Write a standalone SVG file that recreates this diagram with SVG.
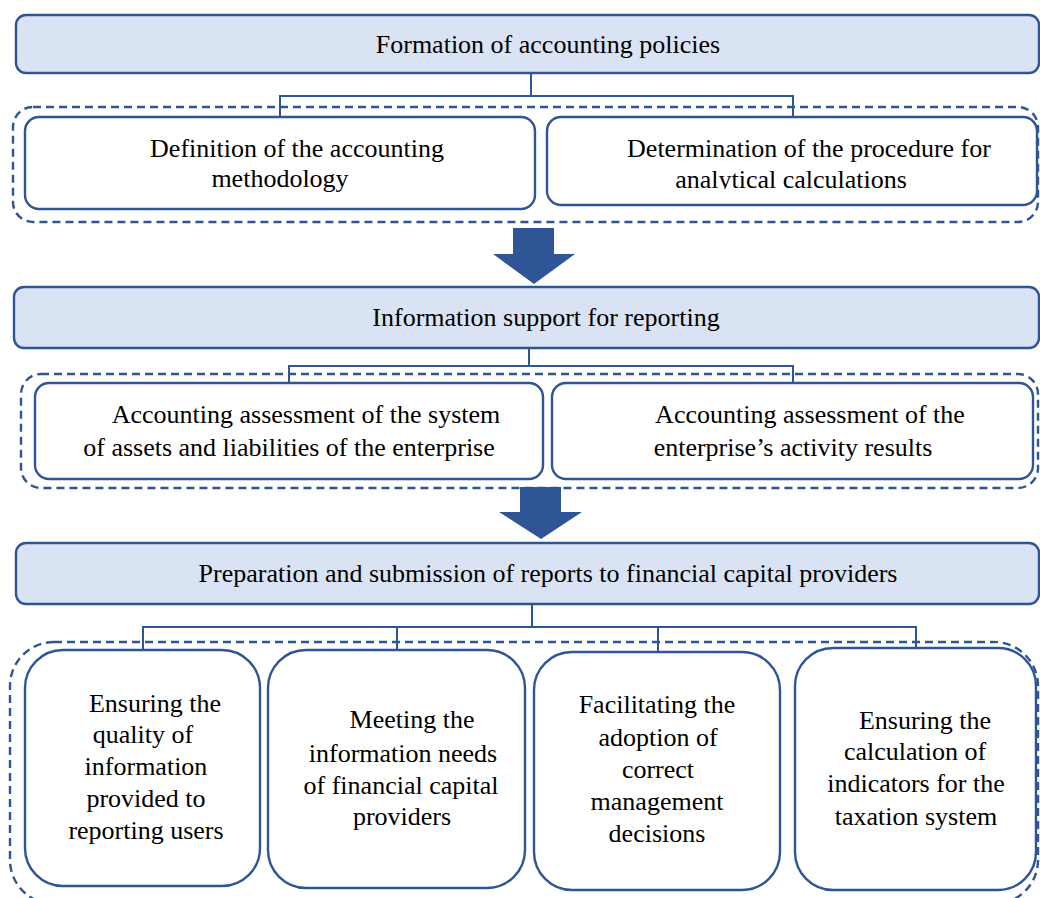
<svg xmlns="http://www.w3.org/2000/svg" width="1040" height="898" viewBox="0 0 1040 898" font-family="'Liberation Serif', 'DejaVu Serif', serif">
  <defs>
    <style>
      .hdr { fill: #DAE3F3; stroke: #2F5597; stroke-width: 2.4; }
      .box { fill: #FFFFFF; stroke: #2F5597; stroke-width: 2.4; }
      .grp { fill: none; stroke: #2F5597; stroke-width: 2.4; stroke-dasharray: 8 5; }
      .wire { fill: none; stroke: #2F5597; stroke-width: 2; }
      .flow { fill: #2F5597; stroke: none; }
      .t { font-family: 'Liberation Serif', 'DejaVu Serif', serif; font-size: 26px; fill: #000000; text-anchor: middle; }
    </style>
    <clipPath id="clipLine">
      <rect x="540" y="160" width="500" height="29"/>
    </clipPath>
  </defs>

  <!-- dashed group frames -->
  <g id="frames">
    <rect class="grp" x="13" y="107" width="1025" height="115" rx="20"/>
    <rect class="grp" x="21" y="374" width="1017" height="114" rx="20"/>
    <rect class="grp" x="10" y="642" width="1028" height="262" rx="44"/>
  </g>

  <!-- stage 1 -->
  <g id="formation" class="t">
    <rect class="hdr" x="16" y="15" width="1023" height="58" rx="10"/>
    <text x="548" y="53">Formation of accounting policies</text>
  </g>
  <g id="definition" class="t">
    <rect class="box" x="25" y="117" width="510" height="92" rx="14"/>
    <text x="297" y="157">Definition of the accounting</text>
    <text x="280" y="187">methodology</text>
  </g>
  <g id="determination" class="t">
    <rect class="box" x="547" y="117" width="490" height="88" rx="14"/>
    <text x="809" y="157">Determination of the procedure for</text>
    <text x="791" y="188" clip-path="url(#clipLine)">analytical calculations</text>
  </g>

  <!-- stage 2 -->
  <g id="information" class="t">
    <rect class="hdr" x="14" y="287" width="1025" height="61" rx="10"/>
    <text x="546" y="326">Information support for reporting</text>
  </g>
  <g id="assets" class="t">
    <rect class="box" x="35" y="383" width="508" height="96" rx="14"/>
    <text x="306" y="423">Accounting assessment of the system</text>
    <text x="289" y="456">of assets and liabilities of the enterprise</text>
  </g>
  <g id="results" class="t">
    <rect class="box" x="552" y="383" width="481" height="96" rx="14"/>
    <text x="810" y="423">Accounting assessment of the</text>
    <text x="793" y="456">enterprise’s activity results</text>
  </g>

  <!-- stage 3 -->
  <g id="preparation" class="t">
    <rect class="hdr" x="16" y="543" width="1023" height="61" rx="10"/>
    <text x="548" y="582">Preparation and submission of reports to financial capital providers</text>
  </g>
  <g id="quality" class="t">
    <rect class="box" x="25" y="650" width="235" height="236" rx="38"/>
    <text x="155" y="712">Ensuring the</text>
    <text x="143" y="743">quality of</text>
    <text x="146" y="775">information</text>
    <text x="146" y="807">provided to</text>
    <text x="146" y="839">reporting users</text>
  </g>
  <g id="needs" class="t">
    <rect class="box" x="268" y="650" width="257" height="238" rx="38"/>
    <text x="412" y="728">Meeting the</text>
    <text x="403" y="762">information needs</text>
    <text x="401" y="794">of financial capital</text>
    <text x="402" y="825">providers</text>
  </g>
  <g id="decisions" class="t">
    <rect class="box" x="534" y="652" width="246" height="238" rx="38"/>
    <text x="657" y="713">Facilitating the</text>
    <text x="658" y="746">adoption of</text>
    <text x="658" y="778">correct</text>
    <text x="657" y="810">management</text>
    <text x="657" y="842">decisions</text>
  </g>
  <g id="taxation" class="t">
    <rect class="box" x="795" y="648" width="241" height="242" rx="38"/>
    <text x="925" y="729">Ensuring the</text>
    <text x="915" y="760">calculation of</text>
    <text x="916" y="792">indicators for the</text>
    <text x="916" y="825">taxation system</text>
  </g>

  <!-- connectors -->
  <g id="connectors">
    <path class="wire" d="M531 73 V96 M280 117 V96 H793 V117"/>
    <path class="wire" d="M529 348 V366 M289 383 V366 H793 V383"/>
    <path class="wire" d="M532 604 V627 M143 650 V627 H916 V648 M397 627 V650 M658 627 V652"/>
    <path class="flow" d="M513 228 H554 V254 H575 L534 284 L493 254 H513 Z"/>
    <path class="flow" d="M520 487 H561 V512 H582 L541 539 L499 512 H520 Z"/>
  </g>
</svg>
